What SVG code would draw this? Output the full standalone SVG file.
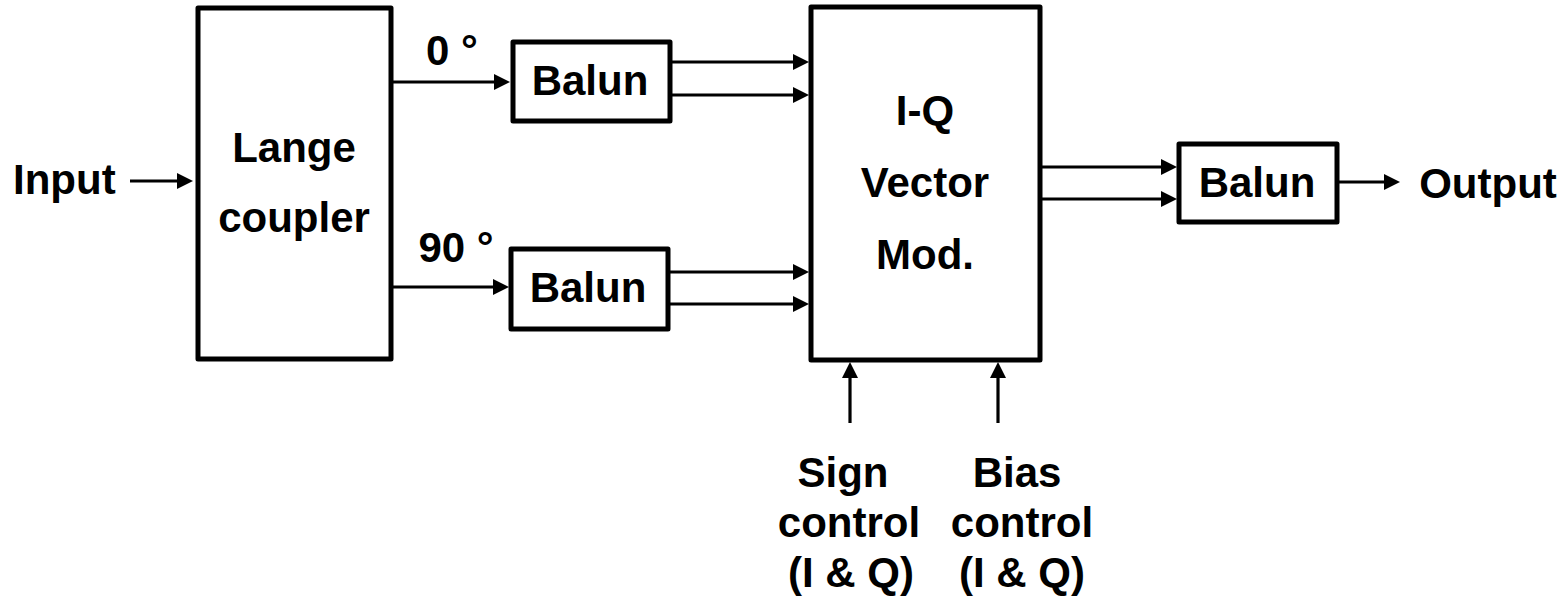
<svg xmlns="http://www.w3.org/2000/svg" width="1563" height="600" viewBox="0 0 1563 600">
<defs>
<style>
.box{fill:#fff;stroke:#000;stroke-width:5;stroke-linejoin:round}
.w{stroke:#000;stroke-width:3.2;fill:none}
text{font-family:"Liberation Sans",Arial,Helvetica,sans-serif;font-weight:bold;font-size:42px;fill:#000}
.m{text-anchor:middle}
</style>
<marker id="ah" markerUnits="userSpaceOnUse" markerWidth="16" markerHeight="16" refX="11" refY="8" orient="auto">
<path d="M0,0 L16,8 L0,16 z" fill="#000"/>
</marker>
</defs>
<rect width="1563" height="600" fill="#fff"/>
<g id="connectors">
<line class="w" x1="130" y1="181" x2="188" y2="181" marker-end="url(#ah)"/>
<line class="w" x1="393" y1="82" x2="505" y2="82" marker-end="url(#ah)"/>
<line class="w" x1="393" y1="287" x2="504" y2="287" marker-end="url(#ah)"/>
<line class="w" x1="672" y1="62" x2="804" y2="62" marker-end="url(#ah)"/>
<line class="w" x1="672" y1="95" x2="804" y2="95" marker-end="url(#ah)"/>
<line class="w" x1="670" y1="272" x2="804" y2="272" marker-end="url(#ah)"/>
<line class="w" x1="670" y1="304" x2="804" y2="304" marker-end="url(#ah)"/>
<line class="w" x1="1042" y1="167" x2="1172" y2="167" marker-end="url(#ah)"/>
<line class="w" x1="1042" y1="199" x2="1172" y2="199" marker-end="url(#ah)"/>
<line class="w" x1="1339" y1="182" x2="1395" y2="182" marker-end="url(#ah)"/>
<line class="w" x1="850" y1="423" x2="850" y2="367" marker-end="url(#ah)"/>
<line class="w" x1="998" y1="423" x2="998" y2="367" marker-end="url(#ah)"/>
</g>
<g id="input">
<text x="13" y="194">Input</text>
</g>
<g id="lange">
<rect class="box" x="198" y="8" width="193" height="351"/>
<text class="m" x="294" y="162">Lange</text>
<text class="m" x="294" y="232">coupler</text>
</g>
<g id="labels">
<text class="m" x="452" y="65">0 °</text>
<text class="m" x="456" y="262">90 °</text>
</g>
<g id="balun1">
<rect class="box" x="513" y="42" width="157" height="79"/>
<text class="m" x="590" y="95">Balun</text>
</g>
<g id="balun2">
<rect class="box" x="511" y="249" width="157" height="80"/>
<text class="m" x="588" y="302">Balun</text>
</g>
<g id="iqmod">
<rect class="box" x="811" y="7" width="229" height="353"/>
<text class="m" x="925" y="125">I-Q</text>
<text class="m" x="925" y="197">Vector</text>
<text class="m" x="925" y="269">Mod.</text>
</g>
<g id="balun3">
<rect class="box" x="1179" y="144" width="158" height="78"/>
<text class="m" x="1257" y="197">Balun</text>
</g>
<g id="output">
<text class="m" x="1488" y="198">Output</text>
</g>
<g id="sign">
<text class="m" x="843" y="487">Sign</text>
<text class="m" x="849" y="537">control</text>
<text class="m" x="851" y="587">(I &amp; Q)</text>
</g>
<g id="bias">
<text class="m" x="1017" y="487">Bias</text>
<text class="m" x="1022" y="537">control</text>
<text class="m" x="1022" y="587">(I &amp; Q)</text>
</g>
</svg>
